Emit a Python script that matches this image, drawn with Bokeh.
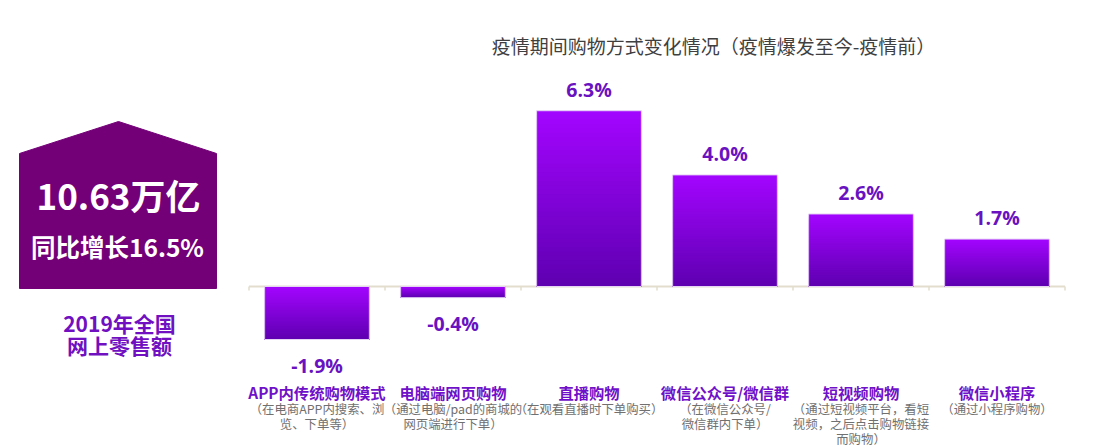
from bokeh.plotting import figure
from bokeh.models import Range1d
from bokeh.core.properties import value
from bokeh.embed import file_html
from bokeh.resources import INLINE
import numpy as np

# ---------------- data ----------------
categories = ["APP内传统购物模式", "电脑端网页购物", "直播购物", "微信公众号/微信群", "短视频购物", "微信小程序"]
subtitles = [
    ["（在电商APP内搜索、浏", "览、下单等）"],
    ["（通过电脑/pad的商城的", "网页端进行下单）"],
    ["（在观看直播时下单购买）"],
    ["（在微信公众号/", "微信群内下单）"],
    ["（通过短视频平台，看短", "视频，之后点击购物链接", "而购物）"],
    ["（通过小程序购物）"],
]
changes = [-1.9, -0.4, 6.3, 4.0, 2.6, 1.7]
value_labels = ["-1.9%", "-0.4%", "6.3%", "4.0%", "2.6%", "1.7%"]
title_text = "疫情期间购物方式变化情况（疫情爆发至今-疫情前）"
total_text = "10.63万亿"
growth_text = "同比增长16.5%"
panel_caption = ["2019年全国", "网上零售额"]

# ---------------- layout helpers ----------------
W, H = 1105, 447
CX0, CW = 316.5, 136.0      # pixel centre of first category, category pitch
Y0, PPU = 286.0, 27.9       # pixel of zero line, pixels per percentage unit

def X(px):
    return (px - CX0) / CW

def Y(py):
    return (Y0 - py) / PPU

p = figure(width=W, height=H, output_backend="svg", toolbar_location=None,
           x_range=Range1d(X(0), X(W)), y_range=Range1d(Y(H), Y(0)),
           min_border=0, min_border_left=0, min_border_right=0,
           min_border_top=0, min_border_bottom=0)
p.axis.visible = False
p.grid.visible = False
p.outline_line_color = None
p.background_fill_color = "white"
p.border_fill_color = "white"

CJK = value("Noto Sans CJK SC")

# ---------------- baseline axis ----------------
n = len(categories)
p.segment(x0=[-0.5], y0=[0], x1=[n - 0.5], y1=[0], line_color="#e2ddcd", line_width=2)
bx = [i - 0.5 for i in range(n + 1)]
p.segment(x0=bx, y0=[0] * len(bx), x1=bx, y1=[-4 / PPU] * len(bx), line_color="#e2ddcd", line_width=1.5)

# ---------------- gradient bars ----------------
top_col = np.array([0xA3, 0x05, 0xFF])
bot_col = np.array([0x5E, 0x00, 0xB0])
N = 40
half = 0.385
ql, qr, qb, qt, qc = [], [], [], [], []
for i, v in enumerate(changes):
    hi, lo = max(v, 0), min(v, 0)
    for j in range(N):
        # j = 0 is the top slice; each slice painted down to the bar bottom, later ones overlay
        t0 = hi - (hi - lo) * j / N
        f = (j + 0.5) / N
        c = top_col + (bot_col - top_col) * f
        ql.append(i - half); qr.append(i + half)
        qt.append(t0); qb.append(lo)
        qc.append("#%02x%02x%02x" % tuple(int(round(k)) for k in c))
p.quad(left=ql, right=qr, top=qt, bottom=qb, fill_color=qc, line_color=None)
# light rim around bars
p.quad(left=[i - half for i in range(n)], right=[i + half for i in range(n)],
       top=[max(v, 0) for v in changes], bottom=[min(v, 0) for v in changes],
       fill_color=None, line_color="#e6d4f5", line_width=1)

# ---------------- value labels ----------------
pos_i = [i for i, v in enumerate(changes) if v >= 0]
neg_i = [i for i, v in enumerate(changes) if v < 0]
p.text(x=pos_i, y=[changes[i] + 8 / PPU for i in pos_i], text=[value_labels[i] for i in pos_i],
       text_font=value("Open Sans"), text_font_style="bold", text_font_size="19.5px",
       text_color="#6a12c0", text_align="center", text_baseline="bottom")
p.text(x=neg_i, y=[changes[i] - 12 / PPU for i in neg_i], text=[value_labels[i] for i in neg_i],
       text_font=value("Open Sans"), text_font_style="bold", text_font_size="19.5px",
       text_color="#6a12c0", text_align="center", text_baseline="top")

# ---------------- category labels ----------------
p.text(x=list(range(n)), y=[Y(391)] * n, text=categories, text_font=CJK, text_font_style="bold",
       text_font_size="15.3px", text_color="#7010c8", text_align="center", text_baseline="middle")
sx, sy, st = [], [], []
for i, lines in enumerate(subtitles):
    for k, line in enumerate(lines):
        sx.append(i); sy.append(Y(408 + 15 * k)); st.append(line)
p.text(x=sx, y=sy, text=st, text_font=CJK, text_font_size="12.4px", text_color="#707070",
       text_align="center", text_baseline="middle")

# ---------------- title ----------------
p.text(x=[X(713)], y=[Y(45)], text=[title_text], text_font=CJK, text_font_size="19px",
       text_color="#3f3f3f", text_align="center", text_baseline="middle")

# ---------------- left panel ----------------
house_px = [19, 118, 216, 216, 19]
house_py = [153, 121, 153, 288, 288]
p.patch(x=[X(v) for v in house_px], y=[Y(v) for v in house_py], fill_color="#740078", line_color="#740078")
p.text(x=[X(118)], y=[Y(194)], text=[total_text], text_font=CJK, text_font_style="bold",
       text_font_size="35px", text_color="white", text_align="center", text_baseline="middle")
p.text(x=[X(117)], y=[Y(246)], text=[growth_text], text_font=CJK, text_font_style="bold",
       text_font_size="24.5px", text_color="white", text_align="center", text_baseline="middle")
p.text(x=[X(119), X(119)], y=[Y(322), Y(344)], text=panel_caption, text_font=CJK, text_font_style="bold",
       text_font_size="21px", text_color="#7010c0", text_align="center", text_baseline="middle")

open("out.html", "w").write(file_html(p, INLINE))
